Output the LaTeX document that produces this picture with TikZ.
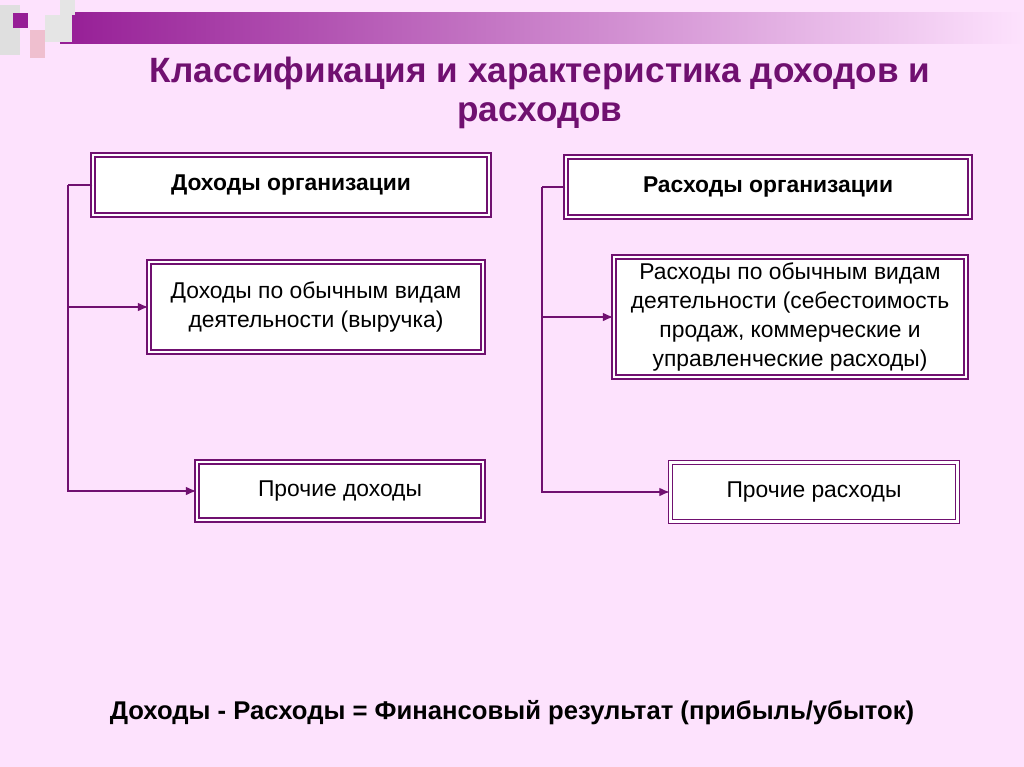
\documentclass[tikz,border=0pt]{standalone}
\usepackage{fontspec}
\setmainfont{Liberation Sans}
\definecolor{bgpink}{RGB}{253,226,253}
\definecolor{plum}{RGB}{112,16,112}
\definecolor{barpurple}{RGB}{150,30,150}
\usetikzlibrary{arrows.meta}
\begin{document}
\begin{tikzpicture}[x=0.02cm,y=-0.02cm,
    box/.style={rectangle, draw=plum, double=white, double distance=1.5pt, line width=0.8pt, fill=white, align=center, font=\fontsize{13}{16.5}\selectfont},
    head/.style={box, font=\bfseries\fontsize{13}{16}\selectfont},
    link/.style={draw=plum, line width=0.8pt},
    arr/.style={link, -{Latex[length=6pt,width=5pt]}}
]
    % Background and decoration
    \fill[bgpink] (0,0) rectangle (1024,767);
    \shade[left color=barpurple, right color=bgpink] (60,13) rectangle (1024,44);
    \fill[gray!25] (0,5) rectangle (20,55);
    \fill[gray!20] (60,0) rectangle (75,15);
    \fill[gray!20] (45,15) rectangle (72,42);
    \fill[purple!25] (30,30) rectangle (45,58);
    \fill[barpurple] (13,13) rectangle (28,28);

    % Title
    \node[font=\bfseries\fontsize{20}{22}\selectfont, text=plum, align=center] (title) at (540,93) {Классификация и характеристика доходов и\\расходов};

    % Income
    \node[head, minimum width=396*0.02cm, minimum height=60*0.02cm] (inc) at (291,185) {Доходы организации};
    \node[box, minimum width=334*0.02cm, minimum height=90*0.02cm] (inc1) at (316,307) {Доходы по обычным видам\\деятельности (выручка)};
    \node[box, minimum width=286*0.02cm, minimum height=58*0.02cm] (inc2) at (340,491) {Прочие доходы};

    % Expenses
    \node[head, minimum width=404*0.02cm, minimum height=60*0.02cm] (exp) at (768,187) {Расходы организации};
    \node[box, minimum width=352*0.02cm, minimum height=118*0.02cm] (exp1) at (790,317) {Расходы по обычным видам\\деятельности (себестоимость\\продаж, коммерческие и\\управленческие расходы)};
    \node[box, minimum width=287*0.02cm, minimum height=59*0.02cm] (exp2) at (814,492) {Прочие расходы};

    % Connections
    \coordinate (lt) at (68,185);
    \coordinate (rt) at (542,187);
    \draw[link] (inc.west) -- (lt);
    \draw[arr] (lt) |- (inc2.west);
    \draw[arr] (lt |- inc1.west) -- (inc1.west);
    \draw[link] (exp.west) -- (rt);
    \draw[arr] (rt) |- (exp2.west);
    \draw[arr] (rt |- exp1.west) -- (exp1.west);

    % Formula
    \node[font=\bfseries\fontsize{14.6}{18}\selectfont] (res) at (512,713) {Доходы - Расходы = Финансовый результат (прибыль/убыток)};
\end{tikzpicture}
\end{document}
